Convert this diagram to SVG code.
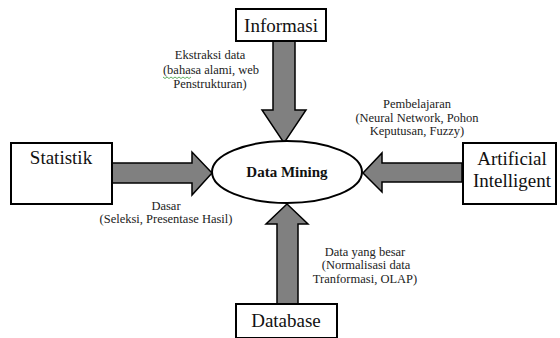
<svg xmlns="http://www.w3.org/2000/svg" width="560" height="338" viewBox="0 0 560 338">
<style>
.box{fill:#fff;stroke:#000;stroke-width:2}
.arr{fill:#808080;stroke:#000;stroke-width:1.5;stroke-linejoin:miter}
.big{font-family:"Liberation Serif",serif;font-size:19px;fill:#111;text-anchor:middle}
.sm{font-family:"Liberation Serif",serif;font-size:12.5px;fill:#222;text-anchor:middle}
.bold{font-family:"Liberation Serif",serif;font-size:15px;font-weight:bold;fill:#111;text-anchor:middle}
</style>
<rect width="560" height="338" fill="#fff"/>
<g id="connectors">
  <polygon class="arr" points="273,41 295,41 295,110 306,110 284,143 262,110 273,110"/>
  <polygon class="arr" points="112,163 192,163 192,152 212,173 192,195 192,183 112,183"/>
  <polygon class="arr" points="462,163 382,163 382,153 363,173 382,192 382,182 462,182"/>
  <polygon class="arr" points="277,304 277,224 266,224 287,204 308,224 298,224 298,304"/>
</g>
<g id="informasi">
  <rect class="box" x="236" y="9" width="90" height="32"/>
  <text class="big" x="281" y="32">Informasi</text>
</g>
<g id="statistik">
  <rect class="box" x="11" y="143" width="101" height="61"/>
  <text class="big" x="61" y="164">Statistik</text>
</g>
<g id="ai">
  <rect class="box" x="463" y="143" width="93" height="61"/>
  <text class="big" x="512" y="165">Artificial</text>
  <text class="big" x="512" y="187">Intelligent</text>
</g>
<g id="database">
  <rect class="box" x="236" y="304" width="101" height="34"/>
  <text class="big" x="286" y="327">Database</text>
</g>
<g id="datamining">
  <ellipse cx="287" cy="172" rx="75" ry="31" fill="#fff" stroke="#000" stroke-width="2"/>
  <text class="bold" x="287" y="177">Data Mining</text>
</g>
<g id="labels">
  <text class="sm" x="210" y="59">Ekstraksi data</text>
  <text class="sm" x="211" y="73.5">(bahasa alami,  web</text>
  <text class="sm" x="210" y="88">Penstrukturan)</text>
  <path d="M163,77 l2,1.5 l2,-1.5 l2,1.5 l2,-1.5 l2,1.5 l2,-1.5 l2,1.5 l2,-1.5 l2,1.5 l2,-1.5 l2,1.5 l2,-1.5 l2,1.5 l2,-1.5" fill="none" stroke="#3a9a3a" stroke-width="0.8"/>
  <text class="sm" x="166" y="210">Dasar</text>
  <text class="sm" x="166" y="223">(Seleksi, Presentase Hasil)</text>
  <text class="sm" x="417" y="108">Pembelajaran</text>
  <text class="sm" x="417" y="122">(Neural Network, Pohon</text>
  <text class="sm" x="417" y="135">Keputusan, Fuzzy)</text>
  <text class="sm" x="365" y="256">Data yang besar</text>
  <text class="sm" x="366" y="269">(Normalisasi data</text>
  <text class="sm" x="365" y="283">Tranformasi, OLAP)</text>
</g>
</svg>
